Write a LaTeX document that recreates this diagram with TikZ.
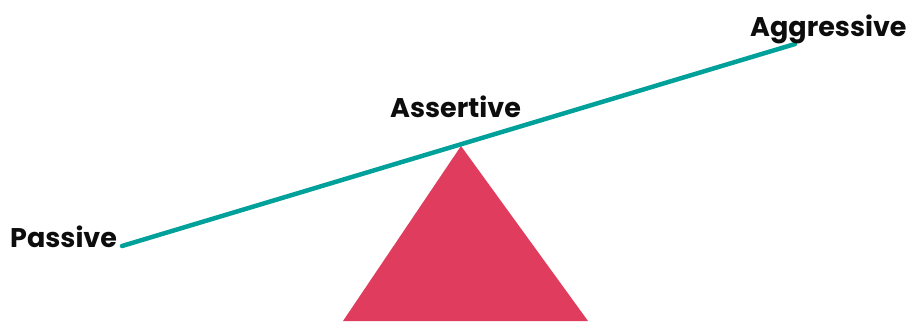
\documentclass[tikz,border=0pt]{standalone}
\usepackage{fontspec}
\setmainfont{Poppins}[BoldFont={Poppins Bold}]
\definecolor{teal1}{HTML}{00A19A}
\definecolor{red1}{HTML}{E03C5E}
\begin{document}
\begin{tikzpicture}[x=1pt,y=-1pt,
  lbl/.style={font=\fontsize{27}{30}\selectfont\bfseries, inner sep=0pt, anchor=base west, text=black!95}]
\useasboundingbox (0,0) rectangle (912,321);
\coordinate (apex) at (461,146);
\coordinate (bl) at (343,321);
\coordinate (br) at (588,321);
\fill[red1] (apex) -- (br) -- (bl) -- cycle;
\coordinate (left) at (122,246);
\coordinate (right) at (795,44);
\draw[teal1, line width=4.5pt, line cap=round] (left) -- (right);
\node[lbl] (passive) at (10,247) {Passive};
\node[lbl] (assertive) at (390,117) {Assertive};
\node[lbl] (aggressive) at (750,37) {Aggressive};
\end{tikzpicture}
\end{document}
